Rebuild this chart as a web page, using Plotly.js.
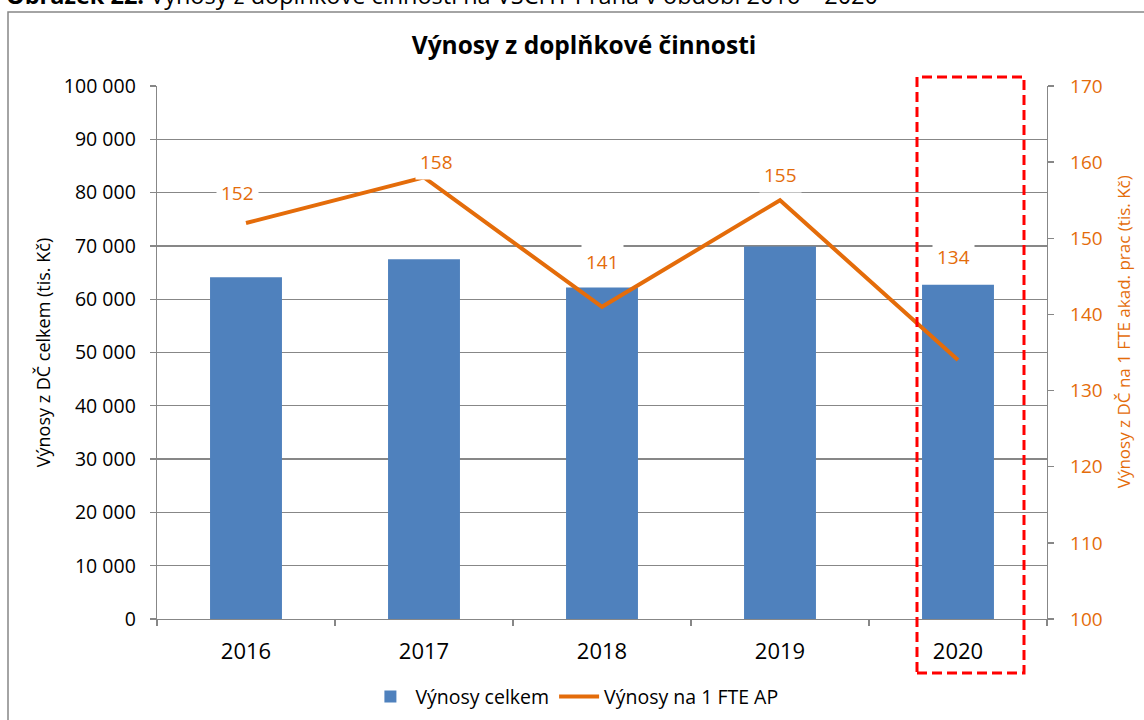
<!DOCTYPE html>
<html>
<head>
<meta charset="utf-8">
<script src="https://cdn.plot.ly/plotly-3.0.1.min.js"></script>
<style>html,body{margin:0;padding:0;background:#fff;}#chart{width:1144px;height:720px;}</style>
</head>
<body>
<div id="chart"></div>
<script>
// ---- data ----
const years = ['2016', '2017', '2018', '2019', '2020'];
const vynosyCelkem = [64100, 67500, 62200, 69900, 62700];     // tis. Kč
const vynosyNaFTE = [152, 158, 141, 155, 134];                 // tis. Kč na 1 FTE AP
const seriesNames = ['Výnosy celkem', 'Výnosy na 1 FTE AP'];

// ---- styling ----
const FONT = '"Open Sans", "Liberation Sans", sans-serif';
const BLUE = '#4F81BD';
const ORANGE = '#E46C0A';
const GRID = '#878787';
// label offsets (px) for the data labels, as placed in the original
const labelShiftX = [-9, 12, 0, 0, -5];
const labelShiftY = [30, 15, 45, 25, 103];

const traces = [
  {
    type: 'bar', x: years, y: vynosyCelkem, name: seriesNames[0],
    marker: {color: BLUE}, yaxis: 'y', hoverinfo: 'x+y'
  },
  {
    type: 'scatter', mode: 'lines', x: years, y: vynosyNaFTE, name: seriesNames[1],
    line: {color: ORANGE, width: 4}, yaxis: 'y2'
  }
];

const dataLabels = years.map((yr, i) => ({
  x: i, y: vynosyNaFTE[i], xref: 'x', yref: 'y2',
  text: String(vynosyNaFTE[i]), showarrow: false,
  xshift: labelShiftX[i], yshift: labelShiftY[i],
  bgcolor: '#ffffff', borderpad: 4,
  font: {family: FONT, size: 19, color: ORANGE}
}));

const layout = {
  width: 1144, height: 720,
  margin: {l: 157, r: 97, t: 86, b: 101, pad: 0, autoexpand: false},
  paper_bgcolor: '#ffffff', plot_bgcolor: '#ffffff',
  separators: ', ',
  font: {family: FONT, color: '#000000'},
  title: {
    text: '<b>Výnosy z doplňkové činnosti</b>',
    font: {family: FONT, size: 24.5, color: '#000000'},
    x: 0.5105, xanchor: 'center', xref: 'container',
    y: 1 - 45 / 720, yanchor: 'middle', yref: 'container'
  },
  bargap: 0.596,
  showlegend: true,
  legend: {
    orientation: 'h', x: 0.469, xanchor: 'center', y: -0.146, yanchor: 'middle',
    font: {family: FONT, size: 19.5, color: '#000000'}, itemwidth: 40, tracegroupgap: 0
  },
  xaxis: {
    type: 'category', range: [-0.5, 4.5], autorange: false,
    showgrid: false, zeroline: false,
    showline: true, linecolor: GRID, linewidth: 1.3,
    ticks: 'outside', tickson: 'boundaries', ticklen: 6, tickcolor: GRID, tickwidth: 1.3,
    tickfont: {family: FONT, size: 22, color: '#000000'},
    ticklabelstandoff: 12, tickangle: 0
  },
  yaxis: {
    range: [0, 100000], autorange: false, dtick: 10000, tickformat: ',d',
    showgrid: true, gridcolor: GRID, gridwidth: 1.3, zeroline: false,
    showline: true, linecolor: GRID, linewidth: 1.3,
    ticks: 'outside', ticklen: 6, tickcolor: GRID, tickwidth: 1.3,
    tickfont: {family: FONT, size: 19.5, color: '#000000'},
    ticklabelstandoff: 10,
    title: {text: 'Výnosy z DČ celkem (tis. Kč)', font: {family: FONT, size: 18, color: '#000000'}, standoff: 8}
  },
  yaxis2: {
    overlaying: 'y', side: 'right', range: [100, 170], autorange: false, dtick: 10,
    showgrid: false, zeroline: false,
    showline: true, linecolor: GRID, linewidth: 1.3,
    ticks: 'outside', ticklen: 6, tickcolor: GRID, tickwidth: 1.3,
    tickfont: {family: FONT, size: 19, color: ORANGE},
    ticklabelstandoff: 12
  },
  annotations: dataLabels.concat([
    {
      xref: 'paper', yref: 'paper', x: 1.0854, y: 0.538, textangle: -90,
      text: 'Výnosy z DČ na 1 FTE akad. prac (tis. Kč)', showarrow: false,
      xanchor: 'center', yanchor: 'middle',
      font: {family: FONT, size: 17, color: ORANGE}
    },
    {
      xref: 'paper', yref: 'paper', x: (4 - 157) / 890, y: (619 - 13) / 533,
      xanchor: 'left', yanchor: 'bottom', showarrow: false,
      text: '<b>Obrázek 22:</b> Výnosy z doplňkové činnosti na VŠCHT Praha v období 2016 – 2020',
      font: {family: FONT, size: 23.5, color: '#000000'}
    }
  ]),
  shapes: [
    { // chart border
      type: 'rect', xref: 'paper', yref: 'paper',
      x0: (8 - 157) / 890, x1: 1.3, y0: -0.4, y1: (619 - 12) / 533,
      line: {color: GRID, width: 1.5}, fillcolor: 'rgba(0,0,0,0)', layer: 'below'
    },
    { // red highlight box
      type: 'rect', xref: 'paper', yref: 'paper',
      x0: (917 - 157) / 890, x1: (1024 - 157) / 890,
      y0: (619 - 673) / 533, y1: (619 - 77) / 533,
      line: {color: '#FF0000', width: 3, dash: '10px,5px'}, fillcolor: 'rgba(0,0,0,0)', layer: 'above'
    }
  ]
};

Plotly.newPlot('chart', traces, layout, {displayModeBar: false, staticPlot: true});
</script>
</body>
</html>
